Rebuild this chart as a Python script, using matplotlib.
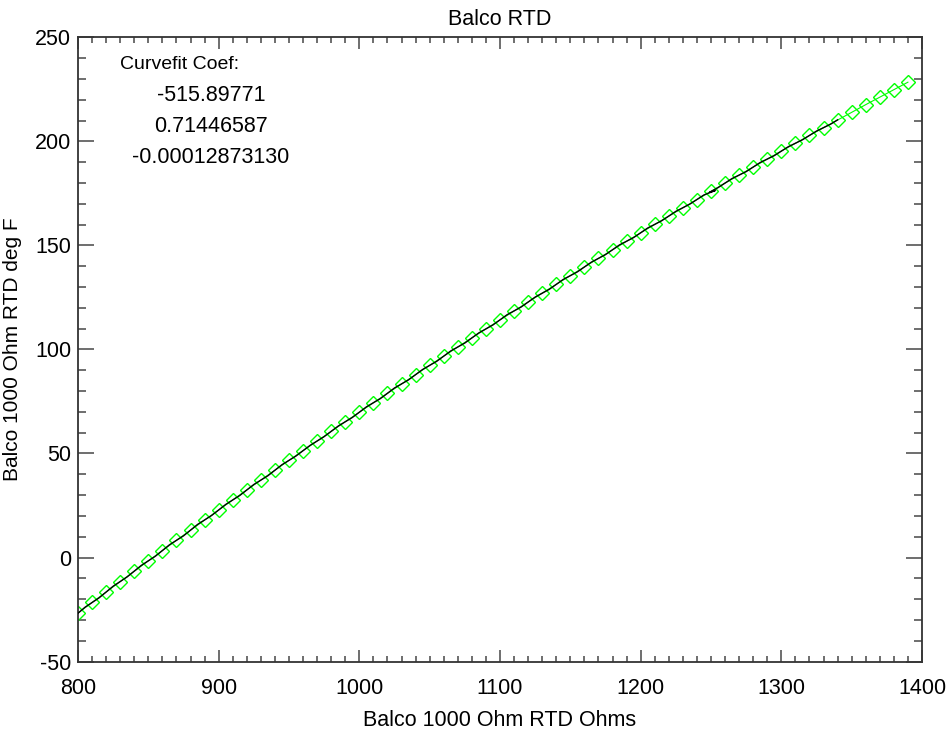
import matplotlib
matplotlib.use("Agg")
import matplotlib.pyplot as plt
from matplotlib.ticker import MultipleLocator

plt.rcParams['font.family'] = ['Liberation Sans', 'DejaVu Sans']
plt.rcParams['axes.unicode_minus'] = False

# Fitted curve evaluated on resistance grid (green diamonds)
fit_ohms = [800, 810, 820, 830, 840, 850, 860, 870, 880, 890,
            900, 910, 920, 930, 940, 950, 960, 970, 980, 990,
            1000, 1010, 1020, 1030, 1040, 1050, 1060, 1070, 1080, 1090,
            1100, 1110, 1120, 1130, 1140, 1150, 1160, 1170, 1180, 1190,
            1200, 1210, 1220, 1230, 1240, 1250, 1260, 1270, 1280, 1290,
            1300, 1310, 1320, 1330, 1340, 1350, 1360, 1370, 1380, 1390]
fit_degf = [-26.7, -21.6, -16.6, -11.6, -6.6, -1.6, 3.3, 8.3, 13.1, 18.0,
            22.8, 27.7, 32.5, 37.2, 42.0, 46.7, 51.4, 56.0, 60.6, 65.3,
            69.8, 74.4, 78.9, 83.4, 87.9, 92.4, 96.8, 101.2, 105.6, 109.9,
            114.2, 118.5, 122.8, 127.1, 131.3, 135.5, 139.7, 143.8, 147.9, 152.0,
            156.1, 160.1, 164.1, 168.1, 172.1, 176.0, 180.0, 183.8, 187.7, 191.5,
            195.4, 199.1, 202.9, 206.6, 210.3, 214.0, 217.7, 221.3, 224.9, 228.5]

# Measured calibration data (black line)
data_ohms = [800, 805, 815, 825, 835, 845, 855, 865, 875, 885,
             895, 905, 915, 925, 935, 945, 955, 965, 975, 985,
             995, 1005, 1015, 1025, 1035, 1045, 1055, 1065, 1075, 1085,
             1095, 1105, 1115, 1125, 1135, 1145, 1155, 1165, 1175, 1185,
             1195, 1205, 1215, 1225, 1235, 1245, 1253, 1249, 1255, 1265,
             1275, 1285, 1295, 1305, 1315, 1325, 1335, 1340]
data_degf = [-26.8, -23.9, -19.4, -13.8, -9.3, -3.8, 0.6, 6.1, 10.4, 15.9,
             20.2, 25.5, 29.8, 35.1, 39.3, 44.6, 48.8, 53.9, 58.1, 63.2,
             67.3, 72.4, 76.4, 81.5, 85.4, 90.4, 94.3, 99.3, 103.1, 108.0,
             111.8, 116.7, 120.4, 125.2, 128.9, 133.7, 137.3, 142.0, 145.6, 150.3,
             153.8, 158.4, 161.9, 166.4, 169.9, 174.3, 176.4, 175.6, 177.8, 182.2,
             185.5, 189.9, 193.2, 197.5, 200.8, 205.0, 208.3, 210.4]

coef_lines = ["-515.89771", "0.71446587", "-0.00012873130"]

fig = plt.figure(figsize=(9.5, 7.32), dpi=100)
ax = fig.add_axes([0.0821, 0.0963, 0.8884, 0.8525])

ax.plot(fit_ohms, fit_degf, color='#00ff00', lw=0.8, marker='D', ms=7,
        mfc='none', mec='#00ff00', mew=1.0, zorder=2)
ax.plot(data_ohms, data_degf, color='black', lw=1.0, zorder=3)

ax.set_xlim(800, 1400)
ax.set_ylim(-50, 250)
ax.xaxis.set_major_locator(MultipleLocator(100))
ax.xaxis.set_minor_locator(MultipleLocator(10))
ax.yaxis.set_major_locator(MultipleLocator(50))
ax.yaxis.set_minor_locator(MultipleLocator(10))

tc = '#555555'
ax.tick_params(axis='both', which='both', direction='in', top=True, right=True,
               color=tc, width=1.2, labelsize=15.5)
ax.tick_params(axis='x', which='both', pad=12)
ax.tick_params(axis='y', which='both', pad=5)
ax.tick_params(axis='x', which='major', length=8.6)
ax.tick_params(axis='x', which='minor', length=4.5)
ax.tick_params(axis='y', which='major', length=11.5)
ax.tick_params(axis='y', which='minor', length=6)
for s in ax.spines.values():
    s.set_color('#333333')
    s.set_linewidth(1.3)

ax.set_title("Balco RTD", fontsize=15.5, pad=9)
ax.set_xlabel("Balco 1000 Ohm RTD Ohms", fontsize=15.5, labelpad=8)
ax.set_ylabel("Balco 1000 Ohm RTD deg F", fontsize=15, labelpad=9)

ax.text(0.0498, 0.9572, "Curvefit Coef:", transform=ax.transAxes, fontsize=14,
        ha='left', va='center')
for i, s in enumerate(coef_lines):
    ax.text(0.1576, 0.9076 - i * 0.0497, s, transform=ax.transAxes, fontsize=15.5,
            ha='center', va='center')

fig.savefig("out.png", dpi=100)
